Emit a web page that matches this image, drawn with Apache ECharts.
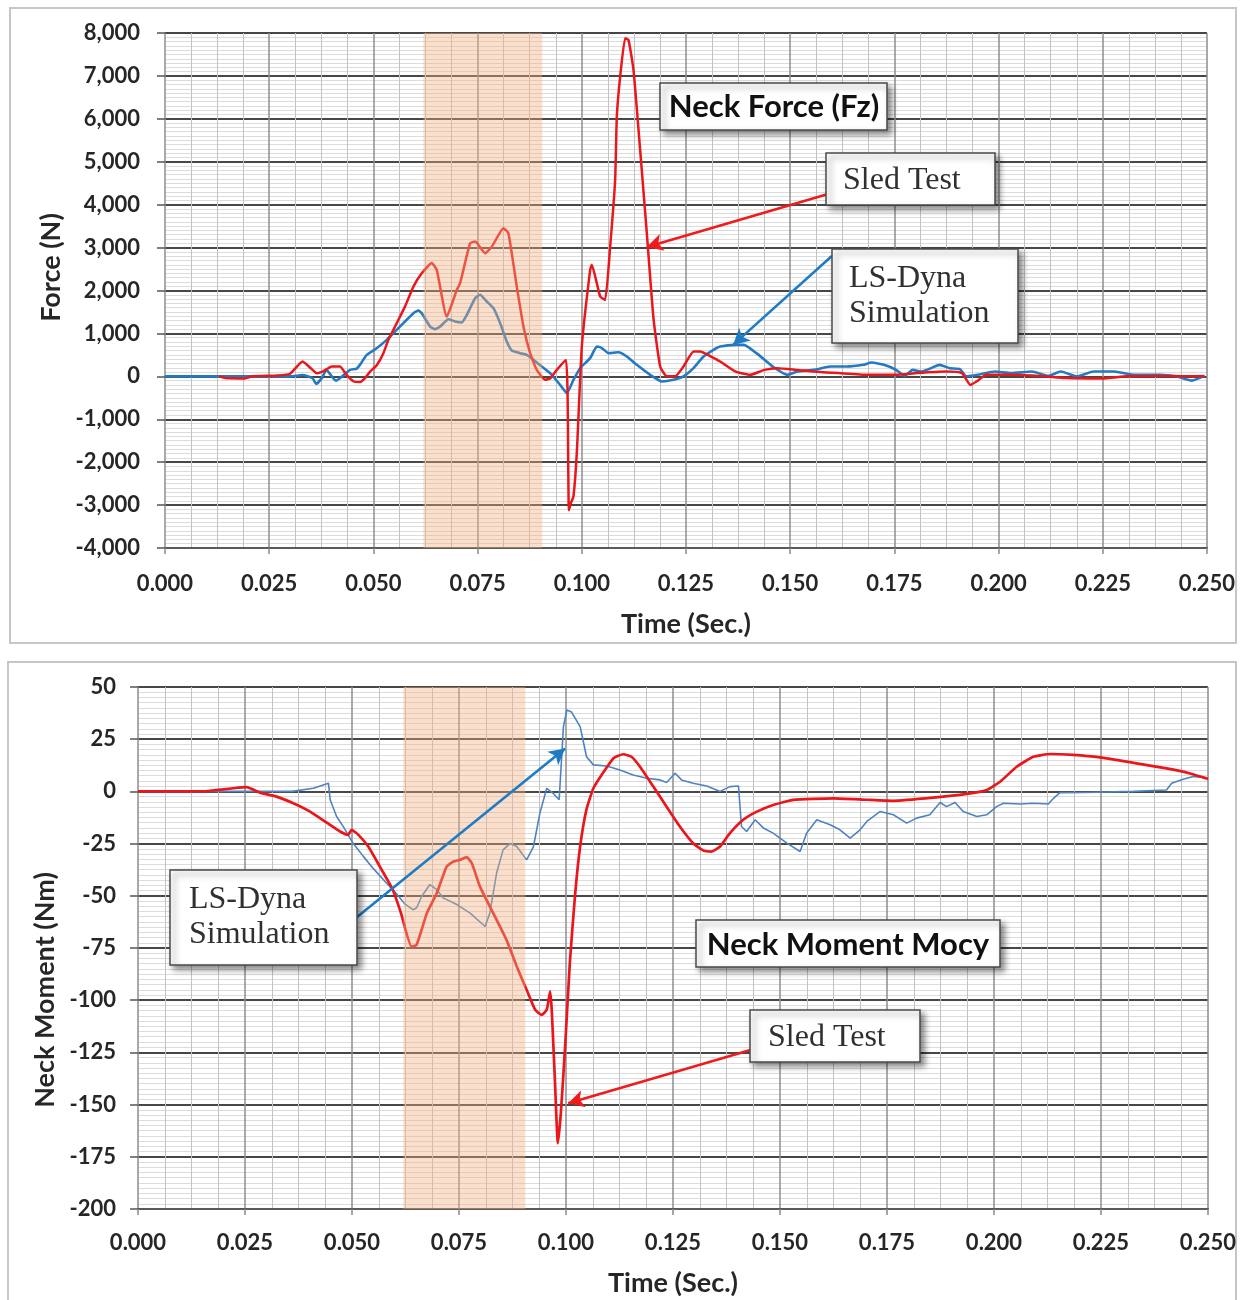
<!DOCTYPE html>
<html>
<head>
<meta charset="utf-8">
<script src="https://cdn.jsdelivr.net/npm/echarts@6/dist/echarts.min.js"></script>
<style>
  html, body { margin: 0; padding: 0; background: #ffffff; }
  #chart { width: 1245px; height: 1300px; }
</style>
</head>
<body>
<div id="chart"></div>
<script>
// ---- Neck force Fz (N) ----
// Sled test
const sledForceTime = [0.013, 0.0145, 0.019, 0.021, 0.027, 0.030, 0.033, 0.0354, 0.0364, 0.038, 0.040, 0.042, 0.0435, 0.0453, 0.0468, 0.0480, 0.0492,
  0.0508, 0.0524, 0.0536, 0.0556, 0.0576, 0.0596, 0.0616, 0.0640, 0.0652, 0.0676, 0.0700, 0.0708, 0.0732, 0.0744, 0.0768, 0.0784,
  0.0812, 0.0824, 0.0844, 0.0860, 0.0876, 0.0892, 0.0912, 0.0924, 0.0940, 0.0962, 0.0966, 0.0969, 0.0974, 0.0980, 0.0988, 0.1000,
  0.1020, 0.1024, 0.1044, 0.1056, 0.1068, 0.1080, 0.1084, 0.1092, 0.1104, 0.1112, 0.1124, 0.1140, 0.1156, 0.1172, 0.1188, 0.1204,
  0.1224, 0.1244, 0.1268, 0.1284, 0.1310, 0.1332, 0.1369, 0.1404, 0.1438, 0.1468, 0.1517, 0.1557, 0.1616, 0.1685, 0.1754, 0.1804,
  0.1873, 0.1912, 0.1932, 0.1947, 0.1971, 0.2030, 0.2109, 0.2159, 0.2248, 0.2307, 0.2376, 0.2445, 0.2494];
const sledForce = [0, -40, -50, 0, 20, 60, 345, 150, 70, 120, 230, 230, 40, -120, -130, -40, 110,
  260, 540, 850, 1240, 1630, 2090, 2400, 2640, 2480, 1390, 2010, 2170, 3100, 3140, 2870, 3020,
  3450, 3330, 2090, 1160, 540, 150, -80, -50, 150, 380, -500, -3120, -2950, -2800, -1790, 690,
  2480, 2600, 1860, 1780, 3020, 4580, 6050, 6980, 7880, 7840, 7140, 5275, 3335, 1350, 230, 0,
  0, 230, 580, 580, 460, 345, 110, 35, 150, 190, 150, 110, 75, 35, 35, 75,
  110, 75, -200, -120, 35, 35, 0, -40, -50, 0, 10, 0, 10];
// LS-Dyna simulation
const dynaForceTime = [0, 0.030, 0.033, 0.0354, 0.0363, 0.0377, 0.0387, 0.0406, 0.0411, 0.0430, 0.0444, 0.0460, 0.0470, 0.0484,
  0.0508, 0.0532, 0.0548, 0.0572, 0.0596, 0.0608, 0.0616, 0.0636, 0.0648, 0.0660, 0.0680, 0.0696, 0.0712, 0.0724, 0.0744,
  0.0756, 0.0772, 0.0788, 0.0804, 0.0820, 0.0832, 0.0852, 0.0868, 0.0884, 0.0904, 0.0924, 0.0948, 0.0964, 0.0980, 0.0996,
  0.1020, 0.1036, 0.1048, 0.1064, 0.1088, 0.1108, 0.1132, 0.1164, 0.1192, 0.1220, 0.1244, 0.1268, 0.1292, 0.1316, 0.1332,
  0.1369, 0.1389, 0.1419, 0.1458, 0.1493, 0.1517, 0.1557, 0.1596, 0.1636, 0.1675, 0.1695, 0.1725, 0.1754, 0.1774, 0.1794,
  0.1814, 0.1833, 0.1858, 0.1883, 0.1907, 0.1922, 0.1950, 0.1991, 0.2030, 0.2080, 0.2119, 0.2149, 0.2188, 0.2228, 0.2277,
  0.2327, 0.2387, 0.2426, 0.2464, 0.2494];
const dynaForce = [0, 0, 30, -45, -175, -30, 150, -70, -100, 40, 150, 180, 300, 500,
  656, 850, 1006, 1240, 1470, 1533, 1470, 1160, 1100, 1160, 1330, 1280, 1254, 1430, 1820,
  1900, 1743, 1588, 1240, 811, 602, 540, 500, 384, 228, 74, -198, -391, -82, 190,
  424, 694, 660, 540, 560, 461, 268, 35, -120, -80, 0, 190, 461, 617, 694,
  733, 733, 540, 228, 35, 112, 150, 228, 228, 268, 322, 268, 150, 10, 150,
  112, 170, 268, 190, 170, 0, 35, 112, 74, 112, 10, 112, 0, 112, 112,
  35, 35, 0, -100, 10];

// ---- Neck moment Mocy (Nm) ----
// Sled test
const sledMomentTime = [0, 0.015, 0.0176, 0.0223, 0.0254, 0.0285, 0.0324, 0.0363, 0.0402, 0.0441, 0.0472, 0.0491, 0.0499, 0.0515,
  0.0538, 0.0565, 0.0595, 0.0614, 0.0639, 0.0651, 0.0675, 0.0698, 0.0721, 0.0737, 0.0752, 0.0768, 0.0780, 0.0799, 0.0830,
  0.0861, 0.0885, 0.0908, 0.0928, 0.0943, 0.0955, 0.0963, 0.0967, 0.0974, 0.0981, 0.0988, 0.0998, 0.1009, 0.1021, 0.1033,
  0.1048, 0.1064, 0.1087, 0.1111, 0.1134, 0.1153, 0.1173, 0.1204, 0.1235, 0.1266, 0.1297, 0.1321, 0.1340, 0.1360, 0.1383,
  0.1414, 0.1446, 0.1484, 0.1531, 0.1625, 0.1703, 0.1765, 0.1858, 0.1936, 0.1983, 0.2014, 0.2053, 0.2092, 0.2131, 0.2185,
  0.2248, 0.2326, 0.2403, 0.2458, 0.2500];
const sledMoment = [0, 0, 0.5, 1.5, 2, -0.6, -2.5, -5.7, -9.7, -15, -19.2, -20.8, -18.4, -20.8,
  -26.4, -36, -47, -58, -74.3, -73.5, -58.3, -48.8, -36, -33.6, -32.8, -31.5, -34.4, -45.6, -58.3,
  -71.1, -83.9, -95, -104.6, -107, -104.6, -95.8, -106, -138, -168.5, -154, -122, -82, -50, -26.4,
  -8.5, 1.5, 9, 15.9, 17.8, 16.6, 11.8, 2.3, -7.3, -16.8, -24.8, -28.3, -28.8, -26.4, -20,
  -13.6, -9.7, -6.5, -4.1, -3.3, -4, -4.5, -3, -1.2, 0.7, 4.6, 11.8, 16.6, 17.9, 17.5,
  16.3, 13.7, 11, 8.6, 6];
// LS-Dyna simulation
const dynaMomentTime = [0, 0.036, 0.041, 0.0445, 0.0449, 0.0464, 0.0480, 0.0503, 0.0526, 0.0550, 0.0581, 0.0604, 0.0624, 0.0643,
  0.0651, 0.0663, 0.0682, 0.0698, 0.0713, 0.0745, 0.0776, 0.0811, 0.0822, 0.0838, 0.0853, 0.0869, 0.0885, 0.0908, 0.0924,
  0.0939, 0.0955, 0.0970, 0.0984, 0.0994, 0.1002, 0.1013, 0.1033, 0.1048, 0.1064, 0.1095, 0.1126, 0.1157, 0.1189, 0.1220,
  0.1235, 0.1255, 0.1270, 0.1297, 0.1329, 0.1360, 0.1383, 0.1403, 0.1410, 0.1422, 0.1442, 0.1461, 0.1484, 0.1516, 0.1547,
  0.1562, 0.1586, 0.1617, 0.1640, 0.1664, 0.1687, 0.1703, 0.1734, 0.1765, 0.1796, 0.1819, 0.1850, 0.1874, 0.1889, 0.1909,
  0.1928, 0.1960, 0.1983, 0.2006, 0.2022, 0.2061, 0.2092, 0.2127, 0.2139, 0.2154, 0.2209, 0.2326, 0.2403, 0.2415, 0.2442,
  0.2465, 0.2493];
const dynaMoment = [0, 0, 1.5, 3.9, -4, -12, -17, -25, -31, -37, -44, -49, -54, -56.7,
  -55.7, -50.2, -44.6, -47, -51, -54.2, -58.3, -64.7, -58.3, -39, -28, -25, -26.4, -32.8, -26.4,
  -10.4, 1.5, -0.9, -4, 31, 39, 38, 31, 16.6, 12.7, 12.2, 10.3, 7.9, 6.3, 5.5,
  4.3, 8.7, 5.5, 3.9, 2.6, 0, 2.3, 2.6, -16.8, -19.2, -13.6, -17.5, -20, -24.8, -28.8,
  -20, -13.6, -16, -18.4, -22.4, -18.4, -14.4, -9.6, -11.2, -15.2, -12.8, -11.2, -5.3, -7.3, -5.3,
  -9.6, -12, -11.2, -7.3, -5.7, -6, -5.7, -6, -3.3, -0.6, -0.5, 0, 0.7, 3.9, 5.8,
  7.1, 6.6];

// Shaded time window (s)
const bandStart = 0.062;
const bandEnd = 0.0905;

// Callout arrows, [from, to] in (time, value)
const forceSledArrow = [[0.1591, 4250], [0.1156, 3016]];
const forceDynaArrow = [[0.1600, 2806], [0.1363, 733]];
const momentDynaArrow = [[0.0509, -60.6], [0.0998, 20.6]];
const momentSledArrow = [[0.1435, -123.6], [0.1005, -149.4]];

const pairs = (ts, vs) => ts.map((t, i) => [t, vs[i]]);

const SANS = 'Lato';
const INK = '#262626';
const RED = '#e9171c';
const BLUE_THICK = '#2479c2';
const BLUE_THIN = '#4f83bf';
const BAND_COLOR = 'rgba(240,176,128,0.40)';
const NOTE_BOLD = 'bold 31px Lato';
const NOTE_SERIF = '32px "Liberation Serif"';

function timeAxis(gridIndex, nameGap, labelMargin) {
  return {
    type: 'value', gridIndex, min: 0, max: 0.25, interval: 0.025,
    name: 'Time (Sec.)', nameLocation: 'middle', nameGap,
    nameTextStyle: { fontFamily: SANS, fontWeight: 'bold', fontSize: 27, color: INK },
    axisLine: { show: true, onZero: false, lineStyle: { color: '#5a5a5a', width: 2 } },
    axisTick: { show: true, length: 6, lineStyle: { color: '#8a8a8a', width: 1.5 } },
    axisLabel: { margin: labelMargin, formatter: v => v.toFixed(3), fontFamily: SANS, fontWeight: 'bold', fontSize: 22, color: INK },
    splitLine: { show: true, lineStyle: { color: '#8e8e8e', width: 1.5 } },
    minorTick: { show: false, splitNumber: 4 },
    minorSplitLine: { show: true, lineStyle: { color: '#c2c2c2', width: 1 } }
  };
}

function valueAxis(gridIndex, opts) {
  return {
    type: 'value', gridIndex, min: opts.min, max: opts.max, interval: opts.interval,
    name: opts.name, nameLocation: 'middle', nameGap: opts.nameGap, nameRotate: 90,
    nameTextStyle: { fontFamily: SANS, fontWeight: 'bold', fontSize: 27, color: INK, padding: opts.namePadding },
    axisLine: { show: false },
    axisTick: { show: true, length: 8, lineStyle: { color: '#555555', width: 1.5 } },
    axisLabel: { margin: opts.labelMargin, formatter: opts.formatter, fontFamily: SANS, fontWeight: 'bold', fontSize: 22, color: INK },
    splitLine: { show: true, lineStyle: { color: '#474747', width: 2 } },
    minorTick: { show: false, splitNumber: opts.minorSplit },
    minorSplitLine: { show: true, lineStyle: { color: '#dcdcdc', width: 1 } }
  };
}

function arrowLine(points, color) {
  return {
    silent: true, animation: false,
    symbol: ['none', 'arrow'], symbolSize: [13, 16],
    label: { show: false },
    lineStyle: { color, width: 2.6, type: 'solid' },
    emphasis: { disabled: true },
    data: [[{ coord: points[0] }, { coord: points[1] }]]
  };
}

function band() {
  return {
    silent: true, z: 3,
    itemStyle: { color: BAND_COLOR },
    data: [[{ xAxis: bandStart }, { xAxis: bandEnd }]]
  };
}

// Callout boxes (white, outlined, with drop shadow), drawn above the plot
function callout(x, y, w, h, texts) {
  return {
    type: 'group', z: 100,
    children: [
      {
        type: 'rect', z: 100, shape: { x, y, width: w, height: h },
        style: { fill: '#ffffff', stroke: '#4a4a4a', lineWidth: 1.5,
                 shadowBlur: 6, shadowOffsetX: 4, shadowOffsetY: 4, shadowColor: 'rgba(0,0,0,0.45)' }
      },
      ...texts.map(t => ({
        type: 'text', z: 101,
        style: { text: t.text, x: t.x, y: t.y, fill: t.fill || '#303030',
                 font: t.font, align: t.align || 'left', verticalAlign: 'middle',
                 shadowBlur: 0, shadowColor: 'transparent' }
      }))
    ]
  };
}

function frame(x, y, w, h) {
  return { type: 'rect', z: 0, silent: true, shape: { x, y, width: w, height: h },
           style: { fill: 'none', stroke: '#c6c6c6', lineWidth: 2 } };
}

const chart = echarts.init(document.getElementById('chart'), null, { renderer: 'canvas' });

chart.setOption({
  backgroundColor: '#ffffff',
  animation: false,
  grid: [
    { left: 165, top: 33, width: 1042, height: 515 },
    { left: 138, top: 687, width: 1070, height: 522 }
  ],
  xAxis: [timeAxis(0, 63, 25), timeAxis(1, 61, 23)],
  yAxis: [
    valueAxis(0, { min: -4000, max: 8000, interval: 1000, name: 'Force (N)', nameGap: 100,
                   namePadding: [0, 0, 0, 46], labelMargin: 25, minorSplit: 10,
                   formatter: v => v.toLocaleString('en-US') }),
    valueAxis(1, { min: -200, max: 50, interval: 25, name: 'Neck Moment (Nm)', nameGap: 79,
                   namePadding: [0, 84, 0, 0], labelMargin: 22, minorSplit: 10,
                   formatter: v => String(v) })
  ],
  series: [
    {
      name: 'LS-Dyna Simulation', type: 'line', xAxisIndex: 0, yAxisIndex: 0,
      data: pairs(dynaForceTime, dynaForce), showSymbol: false, smooth: 0.15,
      lineStyle: { color: BLUE_THICK, width: 2.6 }, z: 2,
      markLine: arrowLine(forceDynaArrow, '#1f7cc4')
    },
    {
      name: 'Sled Test', type: 'line', xAxisIndex: 0, yAxisIndex: 0,
      data: pairs(sledForceTime, sledForce), showSymbol: false, smooth: 0.15,
      lineStyle: { color: RED, width: 2.5 }, z: 2,
      markLine: arrowLine(forceSledArrow, '#ee1c1c'),
      markArea: band()
    },
    {
      name: 'LS-Dyna Simulation', type: 'line', xAxisIndex: 1, yAxisIndex: 1,
      data: pairs(dynaMomentTime, dynaMoment), showSymbol: false,
      lineStyle: { color: BLUE_THIN, width: 1.6 }, z: 2,
      markLine: arrowLine(momentDynaArrow, '#1f7cc4')
    },
    {
      name: 'Sled Test', type: 'line', xAxisIndex: 1, yAxisIndex: 1,
      data: pairs(sledMomentTime, sledMoment), showSymbol: false, smooth: 0.15,
      lineStyle: { color: RED, width: 2.7 }, z: 2,
      markLine: arrowLine(momentSledArrow, '#ee1c1c'),
      markArea: band()
    }
  ],
  graphic: [
    frame(10, 8, 1226, 635),
    frame(8, 662, 1228, 648),
    callout(660, 83, 227, 47, [
      { text: 'Neck Force (Fz)', x: 774, y: 107, align: 'center', fill: '#111111', font: NOTE_BOLD }
    ]),
    callout(826, 153, 169, 52, [
      { text: 'Sled Test', x: 843, y: 181, font: NOTE_SERIF }
    ]),
    callout(832, 249, 186, 94, [
      { text: 'LS-Dyna', x: 849, y: 279, font: NOTE_SERIF },
      { text: 'Simulation', x: 849, y: 314, font: NOTE_SERIF }
    ]),
    callout(170, 870, 187, 95, [
      { text: 'LS-Dyna', x: 189, y: 900, font: NOTE_SERIF },
      { text: 'Simulation', x: 189, y: 935, font: NOTE_SERIF }
    ]),
    callout(696, 920, 304, 47, [
      { text: 'Neck Moment Mocy', x: 848, y: 945, align: 'center', fill: '#111111', font: NOTE_BOLD }
    ]),
    callout(750, 1010, 170, 52, [
      { text: 'Sled Test', x: 768, y: 1038, font: NOTE_SERIF }
    ])
  ]
});
</script>
</body>
</html>
